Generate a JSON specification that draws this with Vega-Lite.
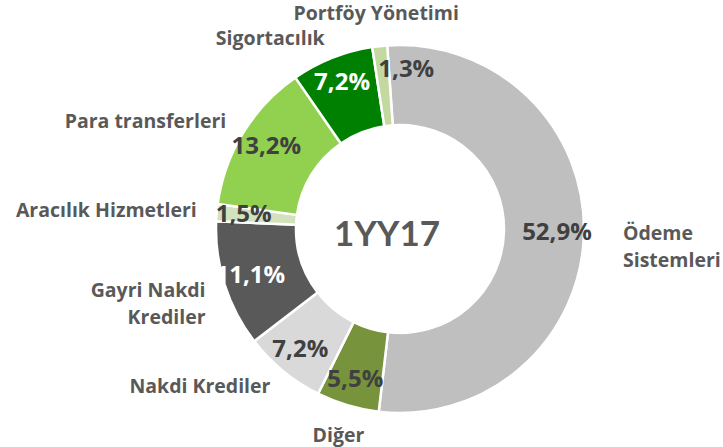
{
  "$schema": "https://vega.github.io/schema/vega-lite/v6.json",
  "autosize": {"type": "none"},
  "width": 646,
  "height": 436,
  "padding": {"left": 77, "top": 11, "right": 0, "bottom": 0},
  "background": "white",
  "config": {"view": {"stroke": null}},
  "data": {
    "values": [
      {"k": 1, "cat": "Ödeme Sistemleri", "name": "Ödeme\nSistemleri", "pct": 52.9, "lbl": "52,9%", "side": "right"},
      {"k": 2, "cat": "Diğer", "name": "Diğer", "pct": 5.5, "lbl": "5,5%", "side": "mid"},
      {"k": 3, "cat": "Nakdi Krediler", "name": "Nakdi Krediler", "pct": 7.2, "lbl": "7,2%", "side": "left"},
      {"k": 4, "cat": "Gayri Nakdi Krediler", "name": "Gayri Nakdi \nKrediler", "pct": 11.1, "lbl": "11,1%", "side": "left"},
      {"k": 5, "cat": "Aracılık Hizmetleri", "name": "Aracılık Hizmetleri", "pct": 1.5, "lbl": "1,5%", "side": "left"},
      {"k": 6, "cat": "Para transferleri", "name": "Para transferleri", "pct": 13.2, "lbl": "13,2%", "side": "left"},
      {"k": 7, "cat": "Sigortacılık", "name": "Sigortacılık", "pct": 7.2, "lbl": "7,2%", "side": "left"},
      {"k": 8, "cat": "Portföy Yönetimi", "name": "Portföy Yönetimi", "pct": 1.3, "lbl": "1,3%", "side": "mid"}
    ]
  },
  "encoding": {
    "theta": {"field": "pct", "type": "quantitative", "stack": true, "scale": {"range": [-0.0698, 6.2134]}},
    "order": {"field": "k", "type": "quantitative"}
  },
  "layer": [
    {
      "mark": {"type": "arc", "outerRadius": 184, "innerRadius": 104, "stroke": "#ffffff", "strokeWidth": 2.5},
      "encoding": {
        "color": {
          "field": "cat", "type": "nominal", "legend": null,
          "scale": {
            "domain": ["Ödeme Sistemleri", "Diğer", "Nakdi Krediler", "Gayri Nakdi Krediler", "Aracılık Hizmetleri", "Para transferleri", "Sigortacılık", "Portföy Yönetimi"],
            "range": ["#BFBFBF", "#77933C", "#D9D9D9", "#595959", "#D3E2BC", "#92D050", "#008000", "#C4D9A0"]
          }
        }
      }
    },
    {
      "mark": {"type": "text", "radius": 157, "font": "Open Sans", "fontWeight": "bold", "fontSize": 24, "baseline": "middle", "align": "center"},
      "encoding": {
        "text": {"condition": {"test": "datum.cat != 'Portföy Yönetimi'", "field": "lbl"}, "value": ""},
        "detail": {"field": "cat"},
        "color": {
          "condition": {"test": "datum.cat == 'Sigortacılık' || datum.cat == 'Gayri Nakdi Krediler'", "value": "#FFFFFF"},
          "value": "#404040"
        }
      }
    },
    {
      "mark": {"type": "text", "radius": 160, "font": "Open Sans", "fontWeight": "bold", "fontSize": 24, "baseline": "middle", "align": "left", "dx": -4, "color": "#404040"},
      "encoding": {
        "text": {"condition": {"test": "datum.cat == 'Portföy Yönetimi'", "field": "lbl"}, "value": ""},
        "detail": {"field": "cat"}
      }
    },
    {
      "mark": {"type": "text", "radius": 204, "font": "Open Sans", "fontWeight": "bold", "fontSize": 19.5, "baseline": "middle", "align": "right", "color": "#595959", "lineBreak": "\n", "lineHeight": 27},
      "encoding": {"text": {"condition": {"test": "datum.side == 'left'", "field": "name"}, "value": ""}, "detail": {"field": "cat"}}
    },
    {
      "mark": {"type": "text", "radius": 216, "font": "Open Sans", "fontWeight": "bold", "fontSize": 19.5, "baseline": "middle", "align": "center", "color": "#595959"},
      "encoding": {"text": {"condition": {"test": "datum.side == 'mid'", "field": "name"}, "value": ""}, "detail": {"field": "cat"}}
    },
    {
      "mark": {"type": "text", "radius": 223, "font": "Open Sans", "fontWeight": "bold", "fontSize": 19.5, "baseline": "middle", "align": "left", "color": "#595959", "lineBreak": "\n", "lineHeight": 27},
      "encoding": {"text": {"condition": {"test": "datum.side == 'right'", "field": "name"}, "value": ""}, "detail": {"field": "cat"}}
    },
    {
      "data": {"values": [{"t": "1YY17"}]},
      "mark": {"type": "text", "font": "Lato", "fontWeight": "bold", "fontSize": 35, "baseline": "middle", "align": "center", "color": "#595959", "dx": -13, "dy": 6},
      "encoding": {"text": {"field": "t"}, "theta": null, "order": null}
    }
  ]
}
